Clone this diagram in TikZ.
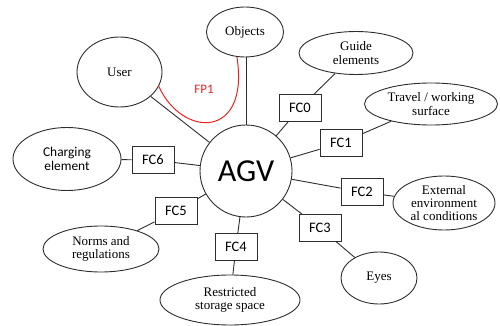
\documentclass[tikz,border=0pt]{standalone}
\usepackage{fontspec}
\setmainfont{Liberation Serif}
\newfontfamily\calib{Carlito}
\usetikzlibrary{shapes.geometric}
\definecolor{ln}{RGB}{45,45,45}
\definecolor{fpred}{RGB}{235,35,35}
\tikzset{
  ell/.style={ellipse, draw=ln, line width=0.9pt, inner sep=0pt, align=center,
    font=\fontsize{13}{13.3}\selectfont},
  fcbox/.style={rectangle, draw=ln, line width=0.9pt, minimum width=42pt, minimum height=27pt,
    inner sep=0pt, font=\calib\fontsize{14.5}{15}\selectfont},
  conn/.style={draw=ln, line width=0.9pt},
}
\begin{document}
\begin{tikzpicture}[x=1pt,y=-1pt]
\useasboundingbox (0,0) rectangle (500,326);
% central node
\node[circle, draw=ln, line width=0.9pt, minimum size=92pt, inner sep=0pt,
  font=\calib\fontsize{32}{34}\selectfont] (agv) at (246,171) {AGV};
% ellipses
\node[ell, minimum width=85pt, minimum height=70pt] (user) at (119.5,72) {User};
\node[ell, minimum width=77pt, minimum height=50pt] (objects) at (245,32) {Objects};
\node[ell, minimum width=114pt, minimum height=43pt] (guide) at (356,53) {Guide\\elements};
\node[ell, minimum width=133pt, minimum height=42pt] (travel) at (431,104) {Travel / working\\surface};
\node[ell, minimum width=108pt, minimum height=63pt, font=\calib\fontsize{13.4}{14}\selectfont] (charging) at (67,159) {Charging\\element};
\node[ell, minimum width=116pt, minimum height=46pt] (norms) at (101,249) {Norms and\\regulations};
\node[ell, minimum width=140pt, minimum height=50pt] (storage) at (230,300) {Restricted\\storage space};
\node[ell, minimum width=102pt, minimum height=54pt] (external) at (444,203) {External\\environment\\al conditions};
\node[ell, minimum width=76pt, minimum height=52pt] (eyes) at (379,278) {Eyes};
% FC boxes
\node[fcbox] (fc0) at (300,108) {FC0};
\node[fcbox] (fc1) at (341,143) {FC1};
\node[fcbox] (fc2) at (362,192) {FC2};
\node[fcbox] (fc3) at (320,228) {FC3};
\node[fcbox] (fc4) at (236,247) {FC4};
\node[fcbox] (fc5) at (176,211) {FC5};
\node[fcbox] (fc6) at (153,160) {FC6};
% connectors
\draw[conn] (agv) -- (fc0) -- (guide);
\draw[conn] (agv) -- (fc1) -- (travel);
\draw[conn] (agv) -- (fc2) -- (external);
\draw[conn] (agv) -- (fc3) -- (eyes);
\draw[conn] (agv) -- (fc4) -- (storage);
\draw[conn] (agv) -- (fc5) -- (norms);
\draw[conn] (agv) -- (fc6) -- (charging);
\draw[conn] (agv) -- (user);
\draw[conn] (agv.north) -- (objects.south -| agv.north);
% FP1
\draw[fpred, line width=1pt] (user.-20) .. controls (182,138) and (250,140) .. (objects.-108);
\node[text=fpred, font=\calib\fontsize{13}{14}\selectfont] (fp1) at (204,89) {FP1};
\end{tikzpicture}
\end{document}
